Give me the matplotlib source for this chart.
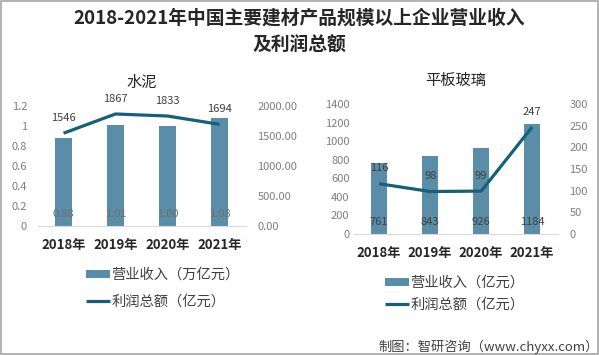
import matplotlib
matplotlib.use("Agg")
import matplotlib.pyplot as plt
from matplotlib.patches import Rectangle

plt.rcParams["font.family"] = ["Noto Sans CJK SC", "DejaVu Sans"]

years = ["2018年", "2019年", "2020年", "2021年"]

# 水泥
cement_revenue = [0.88, 1.01, 1.00, 1.08]      # 万亿元
cement_profit = [1546, 1867, 1833, 1694]        # 亿元
cement_revenue_labels = ["0.88", "1.01", "1.00", "1.08"]

# 平板玻璃
glass_revenue = [761, 843, 926, 1184]           # 亿元
glass_profit = [116, 98, 99, 247]               # 亿元

BAR_COLOR = "#5A8DA7"
LINE_COLOR = "#17607C"
TICK_COLOR = "#7F7F7F"
LABEL_COLOR = "#404040"


def draw_panel(fig, rect, title, title_y, revenue, profit, rev_labels,
               left_lim, left_ticks, left_fmt, right_lim, right_ticks, right_fmt,
               left_pad, bar_label_color, bar_w):
    ax = fig.add_axes(rect)
    x = list(range(len(years)))
    ax.bar(x, revenue, bar_w, color=BAR_COLOR, zorder=2)
    ax.set_xlim(-0.5, len(years) - 0.5)
    ax.set_ylim(*left_lim)
    ax.set_yticks(left_ticks)
    ax.set_yticklabels([left_fmt(v) for v in left_ticks])
    ax.set_xticks(x)
    ax.set_xticklabels(years, fontweight="bold", fontsize=9.5, color="#262626")
    ax.tick_params(axis="x", length=0, pad=9)
    ax.tick_params(axis="y", length=0, pad=left_pad, labelsize=8, labelcolor=TICK_COLOR)
    for s in ["top", "left", "right"]:
        ax.spines[s].set_visible(False)
    ax.spines["bottom"].set_color("#D9D9D9")
    for i, lab in enumerate(rev_labels):
        ax.annotate(lab, (i, 0), xytext=(0, 8.5), textcoords="offset points",
                    ha="center", va="center", fontsize=8, color=bar_label_color, zorder=3)

    ax2 = ax.twinx()
    ax2.plot(x, profit, color=LINE_COLOR, lw=2.3, zorder=4, solid_capstyle="butt")
    ax2.set_ylim(*right_lim)
    ax2.set_yticks(right_ticks)
    ax2.set_yticklabels([right_fmt(v) for v in right_ticks])
    ax2.tick_params(axis="y", length=0, pad=8.5, labelsize=8, labelcolor=TICK_COLOR)
    for s in ["top", "left", "right", "bottom"]:
        ax2.spines[s].set_visible(False)
    for i, v in enumerate(profit):
        ax2.annotate(str(v), (i, v), xytext=(0, 11), textcoords="offset points",
                     ha="center", va="center", fontsize=8, color=LABEL_COLOR)

    fig.text(rect[0] + rect[2] / 2, title_y, title, ha="center", va="center",
             fontsize=11, color="#262626")
    return ax, ax2


fig = plt.figure(figsize=(5.99, 3.55), dpi=100)

fig.text(0.5, 1 - 18 / 355, "2018-2021年中国主要建材产品规模以上企业营业收入",
         ha="center", va="center", fontsize=13.5, fontweight="bold", color="#262626")
fig.text(0.5, 1 - 45 / 355, "及利润总额",
         ha="center", va="center", fontsize=13.5, fontweight="bold", color="#262626")

ax_c, ax_c2 = draw_panel(
    fig, [37.5 / 599, 1 - 226 / 355, 208 / 599, 120 / 355], "水泥", 1 - 82 / 355,
    cement_revenue, cement_profit, cement_revenue_labels,
    (0, 1.2), [0, 0.2, 0.4, 0.6, 0.8, 1.0, 1.2], lambda v: f"{v:g}",
    (0, 2000), [0, 500, 1000, 1500, 2000], lambda v: f"{v:.2f}",
    7.5, "#6E6E6E", 0.33)

ax_g, ax_g2 = draw_panel(
    fig, [353.7 / 599, 1 - 234 / 355, 204 / 599, 130 / 355], "平板玻璃", 1 - 80 / 355,
    glass_revenue, glass_profit, [str(v) for v in glass_revenue],
    (0, 1400), list(range(0, 1401, 200)), lambda v: f"{v}",
    (0, 300), list(range(0, 301, 50)), lambda v: f"{v}",
    3, LABEL_COLOR, 0.32)

# legends
for ax, ax2, rev_name, anchor, spacing in [
    (ax_c, ax_c2, "营业收入（万亿元）", (86 / 599, 1 - 268 / 355), 0.85),
    (ax_g, ax_g2, "营业收入（亿元）", (385 / 599, 1 - 276 / 355), 0.55),
]:
    handles = [ax.patches[0], ax2.lines[0]]
    fig.legend(handles, [rev_name, "利润总额（亿元）"], loc="upper left",
               bbox_to_anchor=anchor, bbox_transform=fig.transFigure,
               frameon=False, fontsize=10.3, borderpad=0, borderaxespad=0,
               handlelength=1.65, handleheight=0.5, handletextpad=0.12,
               labelspacing=spacing, labelcolor="#404040")

fig.text(0.999, 1 - 347 / 355, "制图：智研咨询（www.chyxx.com）",
         ha="right", va="center", fontsize=9.5, color="#404040")

fig.patches.append(Rectangle((0.001, 0.002), 0.997, 0.996, transform=fig.transFigure,
                             fill=False, edgecolor="#A6A6A6", lw=1.2))

fig.savefig("out.png", dpi=100)
